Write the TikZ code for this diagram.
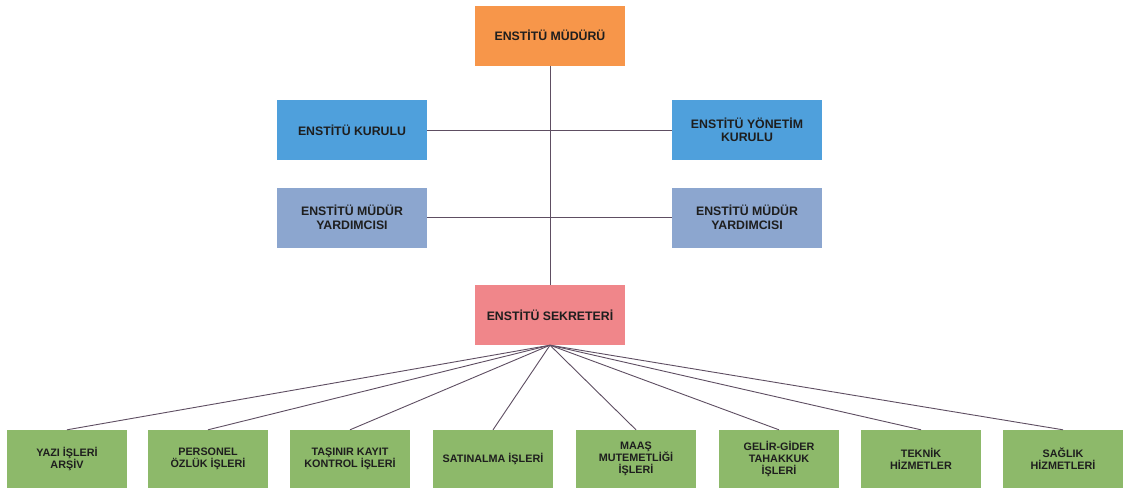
\documentclass[tikz,border=0pt]{standalone}
\usepackage{fontspec}
\setmainfont{Liberation Sans}
\definecolor{orgc}{HTML}{F7964A}
\definecolor{bluec}{HTML}{4FA0DC}
\definecolor{grayb}{HTML}{8CA6CF}
\definecolor{pinkc}{HTML}{F0868A}
\definecolor{greenc}{HTML}{8DB96A}
\definecolor{linec}{HTML}{5E4E62}
\definecolor{txtc}{HTML}{1E1E1E}
\begin{document}
\begin{tikzpicture}[x=1pt,y=-1pt,
  box/.style={rectangle,inner sep=0pt,align=center,text=txtc,font=\bfseries\fontsize{12.3}{13.5}\selectfont,minimum width=150pt,minimum height=60pt},
  gbox/.style={rectangle,inner sep=0pt,align=center,text=txtc,fill=greenc,font=\bfseries\fontsize{10.8}{12}\selectfont,minimum width=120pt,minimum height=58pt},
  conn/.style={draw=linec,line width=0.9pt}]
\useasboundingbox (0,0) rectangle (1123,490);
\fill[white] (0,0) rectangle (1123,490);
% boxes
\node[box,fill=orgc] (mud) at (550,35.5) {ENSTİTÜ MÜDÜRÜ};
\node[box,fill=bluec] (kur) at (352,130) {ENSTİTÜ KURULU};
\node[box,fill=bluec] (yon) at (747,130) {ENSTİTÜ YÖNETİM\\KURULU};
\node[box,fill=grayb] (yr1) at (352,217.5) {ENSTİTÜ MÜDÜR\\YARDIMCISI};
\node[box,fill=grayb] (yr2) at (747,217.5) {ENSTİTÜ MÜDÜR\\YARDIMCISI};
\node[box,fill=pinkc] (sek) at (550,315) {ENSTİTÜ SEKRETERİ};
\node[gbox] (b1) at (67,459) {YAZI İŞLERİ\\ARŞİV};
\node[gbox] (b2) at (208,459) {PERSONEL\\ÖZLÜK İŞLERİ};
\node[gbox] (b3) at (350,459) {TAŞINIR KAYIT\\KONTROL İŞLERİ};
\node[gbox] (b4) at (493,459) {SATINALMA İŞLERİ};
\node[gbox] (b5) at (636,459) {MAAŞ\\MUTEMETLİĞİ\\İŞLERİ};
\node[gbox] (b6) at (779,459) {GELİR-GİDER\\TAHAKKUK\\İŞLERİ};
\node[gbox] (b7) at (921,459) {TEKNİK\\HİZMETLER};
\node[gbox] (b8) at (1063,459) {SAĞLIK\\HİZMETLERİ};
% connectors
\draw[conn] (mud.south) -- (sek.north);
\draw[conn] (kur.east) -- (yon.west);
\draw[conn] (yr1.east) -- (yr2.west);
\foreach \b in {b1,b2,b3,b4,b5,b6,b7,b8}
  \draw[conn] (sek.south) -- (\b.north);
\end{tikzpicture}
\end{document}
